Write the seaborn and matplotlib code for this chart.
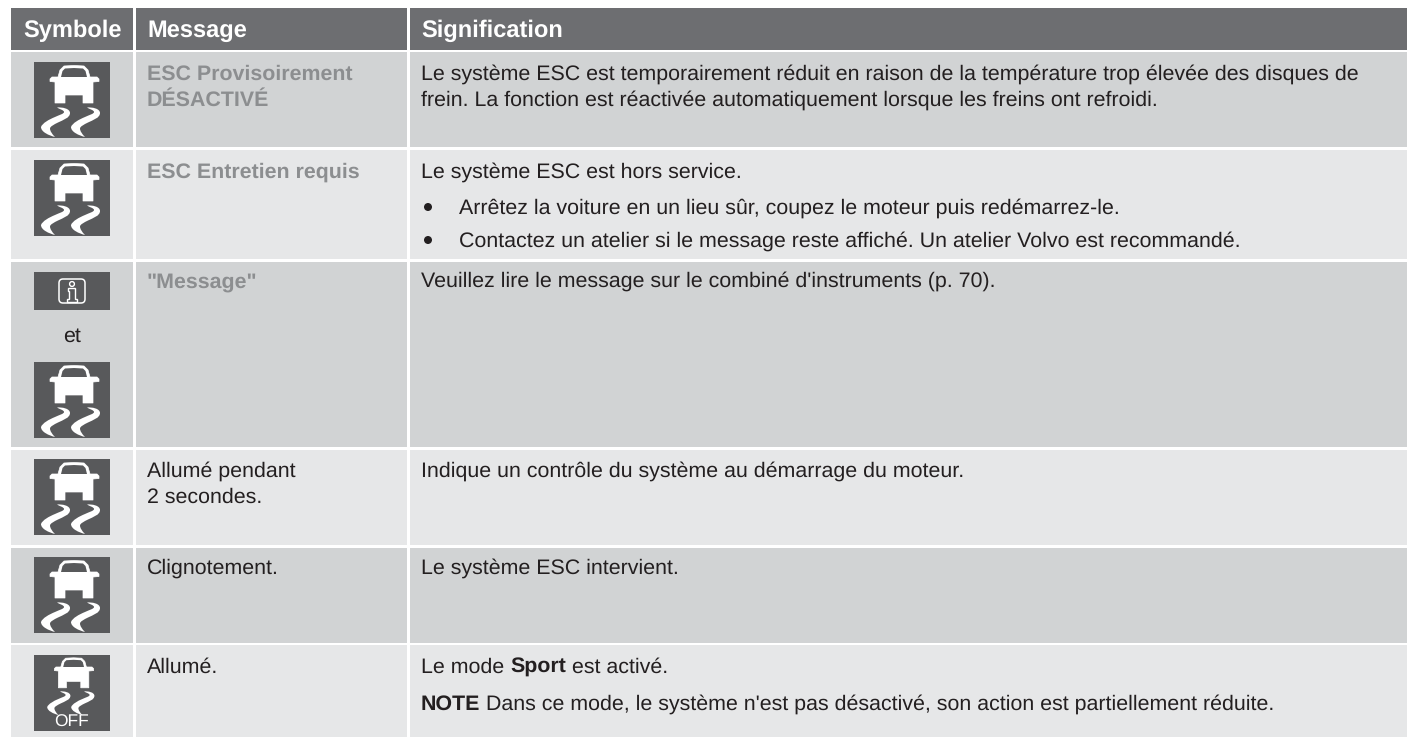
import numpy as np
import matplotlib.pyplot as plt
from matplotlib.colors import ListedColormap
from matplotlib.patches import PathPatch, FancyBboxPatch, Rectangle, Circle
from matplotlib.path import Path
import seaborn as sns

WHITE, HEAD, DARK, LIGHT = 0, 1, 2, 3
headers = ["Symbole", "Message", "Signification"]
row_shades = [HEAD, DARK, LIGHT, DARK, LIGHT, DARK, LIGHT]
band_heights = [8, 42, 2, 95, 3, 109, 3, 185, 3, 95, 3, 95, 2, 92]
col_widths = [11, 122, 3, 271, 3, 997]

messages_bold = [("ESC Provisoirement", 80), ("DÉSACTIVÉ", 106),
                 ("ESC Entretien requis", 178), ('"Message"', 288)]
messages_plain = [("Allumé pendant", 477), ("2 secondes.", 503),
                  ("Clignotement.", 574), ("Allumé.", 673)]
meanings = [
    ("Le système ESC est temporairement réduit en raison de la température trop élevée des disques de", 80),
    ("frein. La fonction est réactivée automatiquement lorsque les freins ont refroidi.", 106),
    ("Le système ESC est hors service.", 178),
    ("Veuillez lire le message sur le combiné d'instruments (p. 70).", 287),
    ("Indique un contrôle du système au démarrage du moteur.", 477),
    ("Le système ESC intervient.", 574),
]
bullets = [("Arrêtez la voiture en un lieu sûr, coupez le moteur puis redémarrez-le.", 214),
           ("Contactez un atelier si le message reste affiché. Un atelier Volvo est recommandé.", 247)]
car_icon_tops = [62, 160, 362, 459, 557]

sns.set_theme(style="white")
plt.rcParams['font.family'] = ['Liberation Sans', 'DejaVu Sans']
plt.rcParams['text.hinting'] = 'no_hinting'

INK = "#231f20"
ICON = "#58595b"
GREY_MSG = "#8c8e90"
BODY = 15.4


def build_shades():
    # white bands between the filled rows and columns
    band_vals = []
    shades = iter(row_shades)
    for i in range(len(band_heights)):
        band_vals.append(WHITE if i % 2 == 0 else next(shades))
    rows = np.repeat(band_vals, band_heights)
    cols = np.repeat([0, 1, 0, 1, 0, 1], col_widths)
    return np.outer(rows, cols)


def squiggle(ax, dx, to_xy):
    verts = [(23, 45.5), (28, 45), (36, 46.5), (36, 51), (36, 56), (29, 58), (24, 60.5),
             (20, 62.5), (16, 64.5), (16, 66.5), (16, 69), (18, 72), (21, 75),
             (15, 73.5), (7, 70), (7, 65), (8.5, 61), (15, 57.5), (21, 55),
             (25, 53), (30, 52), (30, 50), (30, 48), (25, 47), (23, 45.5)]
    codes = [Path.MOVETO] + [Path.CURVE4] * (len(verts) - 1)
    pts = [to_xy(x + dx, y) for x, y in verts]
    ax.add_patch(PathPatch(Path(pts, codes), fc="white", ec="none", zorder=4))


def car_icon(ax, left, top, scale=1.0, off=False):
    ax.add_patch(Rectangle((left, top), 76, 76, fc=ICON, ec="none", zorder=3))
    def to_xy(x, y):
        return (left + 38 + (x - 38) * scale, top + y * scale)
    # body
    body = [(24, 15), (26, 8), (30, 4), (40, 3.5), (50, 4), (54, 8), (56, 15),
            (63, 15), (65, 17), (65, 19.5), (59, 20), (59, 41), (49, 41),
            (49, 33), (31, 33), (31, 41), (21, 41), (21, 20), (16, 19.5),
            (16, 17), (18, 15)]
    ax.add_patch(plt.Polygon([to_xy(*p) for p in body], closed=True, fc="white", ec="white",
                             lw=0.5, joinstyle="round", zorder=4))
    window = [(27, 15), (28.5, 9), (31, 6.5), (40, 6), (49, 6.5), (51.5, 9), (53, 15)]
    ax.add_patch(plt.Polygon([to_xy(*p) for p in window], closed=True, fc=ICON, ec="none", zorder=5))
    squiggle(ax, 0, to_xy)
    squiggle(ax, 30, to_xy)
    if off:
        ax.text(left + 38, top + 72, "OFF", color="white", fontsize=12.5, ha="center",
                va="baseline", zorder=5)


def info_icon(ax, left, top):
    ax.add_patch(Rectangle((left, top), 76, 38, fc=ICON, ec="none", zorder=3))
    cx = left + 38
    ax.add_patch(FancyBboxPatch((cx - 11, top + 9), 22, 20, boxstyle="round,pad=2,rounding_size=4",
                                fc="none", ec="white", lw=1.1, zorder=4))
    ax.add_patch(Circle((cx, top + 12), 2.4, fc="none", ec="white", lw=1, zorder=4))
    stem = [(cx - 4, top + 16), (cx + 3, top + 16), (cx + 3, top + 27), (cx + 5, top + 27), (cx + 5, top + 30),
            (cx - 5, top + 30), (cx - 5, top + 27), (cx - 3, top + 27), (cx - 3, top + 19), (cx - 4, top + 19)]
    ax.add_patch(plt.Polygon(stem, closed=True, fc="none", ec="white", lw=1, zorder=4))


def rich_line(ax, x, y, parts, renderer):
    # parts are (text, weight), placed one after the other on the baseline
    for txt, weight in parts:
        t = ax.text(x, y, txt, color=INK, fontsize=BODY, fontweight=weight, va="baseline", zorder=5)
        x += t.get_window_extent(renderer).width


def main():
    fig = plt.figure(figsize=(14.07, 7.37), dpi=100)
    ax = fig.add_axes([0, 0, 1, 1])
    palette = ListedColormap(["#ffffff", "#6d6e71", "#d1d3d4", "#e6e7e8"])
    sns.heatmap(build_shades(), ax=ax, cmap=palette, vmin=0, vmax=3, cbar=False,
                xticklabels=False, yticklabels=False, rasterized=True)

    for label, x in zip(headers, [23, 147, 421]):
        ax.text(x, 37, label, color="white", fontsize=17, fontweight="bold", va="baseline")

    for txt, y in messages_bold:
        ax.text(147, y, txt, color=GREY_MSG, fontsize=BODY, fontweight="bold", va="baseline")
    for txt, y in messages_plain:
        ax.text(147, y, txt, color=INK, fontsize=BODY, va="baseline")
    for txt, y in meanings:
        ax.text(421, y, txt, color=INK, fontsize=BODY, va="baseline")
    for txt, y in bullets:
        ax.add_patch(Circle((428, y - 7), 4, fc=INK, ec="none", zorder=5))
        ax.text(459, y, txt, color=INK, fontsize=BODY, va="baseline")

    renderer = fig.canvas.get_renderer()
    rich_line(ax, 421, 673, [("Le mode ", "normal"), ("Sport", "bold"), (" est activé.", "normal")], renderer)
    rich_line(ax, 421, 710, [("NOTE", "bold"),
                             (" Dans ce mode, le système n'est pas désactivé, son action est partiellement réduite.", "normal")],
              renderer)

    for top in car_icon_tops:
        car_icon(ax, 34, top)
    car_icon(ax, 34, 655, scale=0.8, off=True)
    info_icon(ax, 34, 272)
    ax.text(72, 342, "et", color=INK, fontsize=BODY, ha="center", va="baseline")

    ax.set_xlabel("")
    ax.set_ylabel("")
    fig.savefig("out.png", dpi=100)
    plt.close(fig)


if __name__ == "__main__":
    main()
